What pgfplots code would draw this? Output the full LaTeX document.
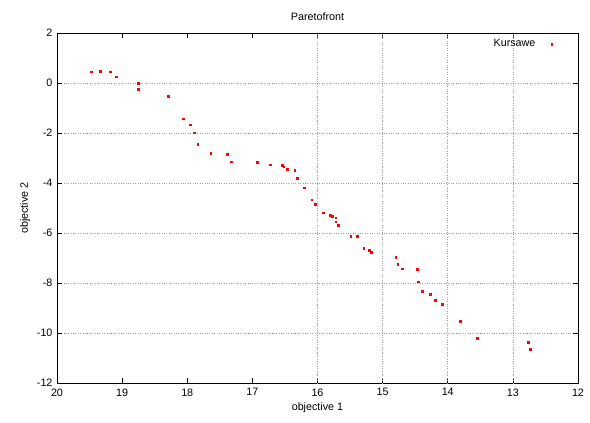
\documentclass[border=0pt]{standalone}
\usepackage{fontspec}
\setmainfont{Liberation Sans}
\usepackage{pgfplots}
\pgfplotsset{compat=1.18}
\begin{document}
\begin{tikzpicture}
\begin{axis}[name=ax, scale only axis, width=521bp, height=350bp,
  x dir=reverse, xmin=12, xmax=20, ymin=-12, ymax=2,
  xtick={12,13,...,20}, ytick={-12,-10,...,2},
  font=\fontsize{10.8}{13}\selectfont,
  /pgf/number format/assume math mode=true,
  axis line style={line width=0.8bp},
  major tick length=5bp, tick style={black, line width=0.6bp},
  ymajorgrids, grid style={dotted, gray!75, line width=0.5bp},
  extra x ticks={13,14,15,16}, extra x tick labels={,,,},
  extra x tick style={grid=major, major tick length=0pt},
  title={Paretofront}, xlabel={objective 1}, ylabel={objective 2},
  title style={yshift=3bp},
  xticklabel style={yshift=-2bp}, yticklabel style={xshift=-1bp},
  legend style={draw=none, fill=none, at={(axis cs:12.38,1.56)}, anchor=east,
    inner sep=0pt, font=\fontsize{10.8}{13}\selectfont},
  legend image code/.code={\path[draw=none] (0cm,0cm) -- (0.55cm,0cm);
    \draw[#1, only marks] plot coordinates {(0.5cm,0cm)};},
  legend plot pos=right, legend cell align=right]
\addplot[only marks, mark=square*, mark size=0.9bp, color=red, mark options={draw=red, fill=red, line width=0.3bp}] table {
x y
19.47 0.45
19.34 0.47
19.18 0.45
19.09 0.25
18.75 -0.01
18.75 -0.24
18.29 -0.53
18.06 -1.43
17.95 -1.67
17.89 -1.99
17.84 -2.45
17.64 -2.81
17.39 -2.85
17.33 -3.15
16.93 -3.17
16.73 -3.27
16.54 -3.29
16.52 -3.35
16.47 -3.44
16.35 -3.48
16.31 -3.81
16.21 -4.19
16.09 -4.67
16.03 -4.85
15.91 -5.19
15.80 -5.28
15.78 -5.33
15.72 -5.39
15.72 -5.55
15.68 -5.68
15.49 -6.12
15.39 -6.12
15.29 -6.61
15.21 -6.68
15.18 -6.77
14.80 -6.96
14.77 -7.25
14.70 -7.43
14.47 -7.45
14.45 -7.95
14.39 -8.32
14.27 -8.44
14.19 -8.68
14.08 -8.85
13.81 -9.52
13.55 -10.21
12.76 -10.37
12.73 -10.64
};
\addlegendentry{Kursawe}
\end{axis}
\path ([shift={(-57bp,-40bp)}]ax.south west) rectangle ([shift={(12bp,33bp)}]ax.north east);
\end{tikzpicture}
\end{document}
